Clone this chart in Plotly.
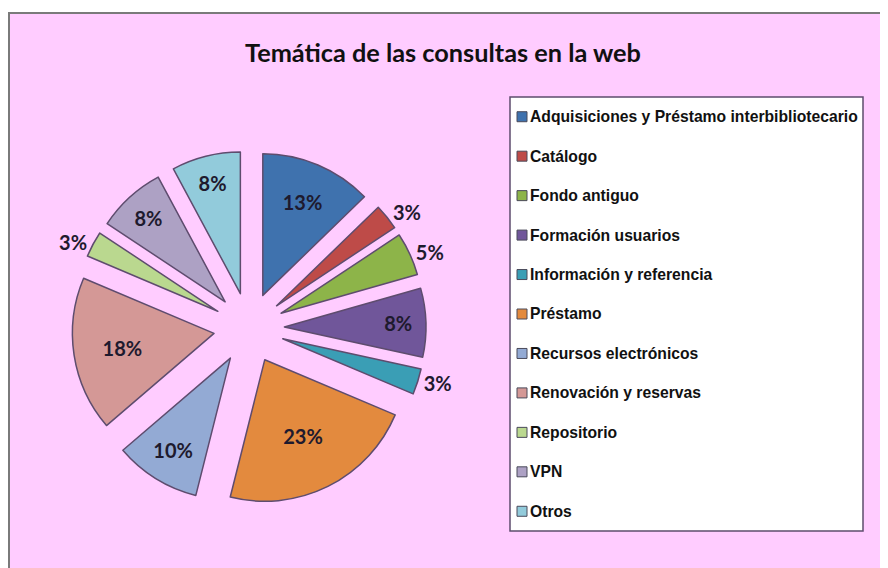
import plotly.graph_objects as go

# Datos
categorias = [
    "Adquisiciones y Préstamo interbibliotecario",
    "Catálogo",
    "Fondo antiguo",
    "Formación usuarios",
    "Información y referencia",
    "Préstamo",
    "Recursos electrónicos",
    "Renovación y reservas",
    "Repositorio",
    "VPN",
    "Otros",
]
porcentajes = [13, 3, 5, 8, 3, 23, 10, 18, 3, 8, 8]

titulo = "Temática de las consultas en la web"

# Estilo
colores = ["#3F72AE", "#BE4B48", "#8DB449", "#70569A", "#3A9EB5", "#E38A3E",
           "#93AAD4", "#D49896", "#BAD88F", "#ADA1C4", "#92CBDB"]
pos_texto = ["inside", "outside", "outside", "inside", "outside", "inside",
             "inside", "inside", "outside", "inside", "inside"]

# la página deja 8 px de margen en el body: la figura ocupa el resto
OFF = 8
W, H = 888 - OFF, 568 - OFF
ROSA = "#FFCCFF"
BORDE = "#5E4C6E"
TEXTO = "#1E1A2E"


def px(x):
    return (x - OFF) / W


def py(y):
    return 1 - (y - OFF) / H


fig = go.Figure()

# centro y tamaño del pastel (px de la imagen)
cx, cy, semi = 249, 328, 177
fig.add_trace(
    go.Pie(
        labels=categorias,
        values=porcentajes,
        sort=False,
        direction="clockwise",
        rotation=0,
        pull=0.25,
        marker=dict(colors=colores, line=dict(color=BORDE, width=1.5)),
        texttemplate="%{percent:.0%}",
        textposition=pos_texto,
        insidetextorientation="horizontal",
        textfont=dict(family="Lato, Open Sans, sans-serif", size=20,
                      color=TEXTO, weight="bold"),
        domain=dict(x=[px(cx - semi), px(cx + semi)],
                    y=[py(cy + semi), py(cy - semi)]),
        showlegend=False,
        hoverinfo="label+percent",
    )
)

# Fondo rosa con borde
shapes = [
    dict(type="rect", xref="paper", yref="paper", layer="below",
         x0=px(9), x1=1.02, y0=-0.02, y1=py(13),
         fillcolor=ROSA, line=dict(color="#7a7a7a", width=2)),
]

# Leyenda
leg_x0, leg_x1, leg_y0, leg_y1 = 510, 863, 97, 531
shapes.append(dict(type="rect", xref="paper", yref="paper",
                   x0=px(leg_x0), x1=px(leg_x1), y0=py(leg_y1), y1=py(leg_y0),
                   fillcolor="white", line=dict(color=BORDE, width=1.5)))
paso = (leg_y1 - leg_y0) / len(categorias)
annotations = []
for i, (cat, col) in enumerate(zip(categorias, colores)):
    yc = leg_y0 + paso / 2 + i * paso
    shapes.append(dict(type="rect", xref="paper", yref="paper",
                       x0=px(517), x1=px(527), y0=py(yc + 5), y1=py(yc - 5),
                       fillcolor=col, line=dict(color="#4a4a5a", width=1)))
    annotations.append(dict(text=cat, xref="paper", yref="paper",
                            x=px(528), y=py(yc), xanchor="left", yanchor="middle",
                            showarrow=False,
                            font=dict(family="Liberation Sans, Arial, sans-serif",
                                      size=15.7, color="#111111", weight="bold")))

annotations.append(dict(text=titulo, xref="paper", yref="paper",
                        x=px(443), y=py(52), xanchor="center", yanchor="middle",
                        showarrow=False,
                        font=dict(family="Lato, Open Sans, sans-serif", size=25.3,
                                  color="#111111", weight="bold")))

fig.update_layout(
    width=W,
    height=H,
    margin=dict(l=0, r=0, t=0, b=0, autoexpand=False),
    paper_bgcolor="white",
    shapes=shapes,
    annotations=annotations,
)

fig.write_html("out.html")
